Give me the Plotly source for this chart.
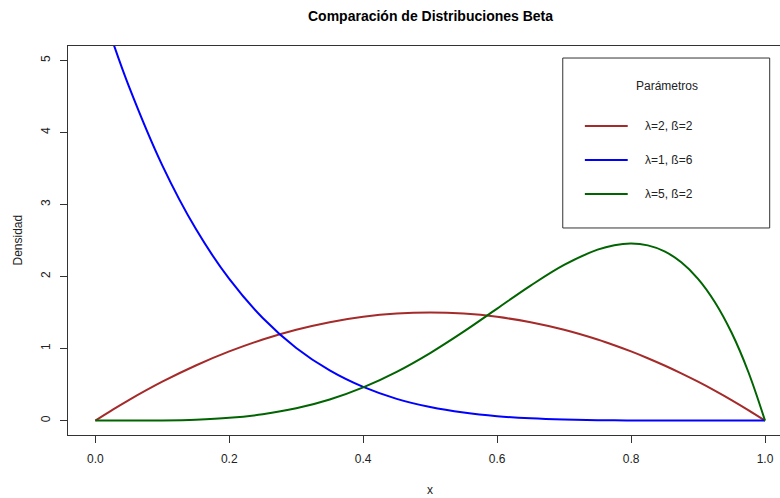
import plotly.graph_objects as go

# Data
x_vals = [0, 0.025, 0.05, 0.10, 0.15, 0.20, 0.25, 0.30, 0.35, 0.40, 0.45, 0.50,
          0.55, 0.60, 0.65, 0.70, 0.75, 0.775, 0.80, 0.825, 0.85, 0.875, 0.90, 0.925,
          0.95, 0.975, 1.0]
dens_2_2 = [0, 0.146, 0.285, 0.54, 0.765, 0.96, 1.125, 1.26, 1.365, 1.44, 1.485, 1.5,
            1.485, 1.44, 1.365, 1.26, 1.125, 1.046, 0.96, 0.866, 0.765, 0.656, 0.54, 0.416,
            0.285, 0.146, 0]
dens_1_6 = [6.0, 5.287, 4.643, 3.543, 2.662, 1.966, 1.424, 1.008, 0.696, 0.467, 0.302, 0.188,
            0.111, 0.061, 0.032, 0.015, 0.006, 0.0035, 0.002, 0.001, 0.0005, 0.0002, 0.0001, 0,
            0, 0, 0]
dens_5_2 = [0, 0, 0.0002, 0.003, 0.013, 0.038, 0.088, 0.170, 0.293, 0.461, 0.677, 0.938,
            1.235, 1.555, 1.874, 2.161, 2.373, 2.435, 2.458, 2.432, 2.349, 2.198, 1.968, 1.647,
            1.222, 0.678, 0]

series_names = ["λ=2, ß=2", "λ=1, ß=6", "λ=5, ß=2"]
series_colors = ["#A52A2A", "#0000FF", "#006400"]
series_values = [dens_2_2, dens_1_6, dens_5_2]

x_ticks = [0.0, 0.2, 0.4, 0.6, 0.8, 1.0]
x_ticklabels = ["0.0", "0.2", "0.4", "0.6", "0.8", "1.0"]
y_ticks = [0, 1, 2, 3, 4, 5]

FONT = "Arial, Liberation Sans, sans-serif"
TXT = "#222222"

fig = go.Figure()
for name, col, vals in zip(series_names, series_colors, series_values):
    fig.add_trace(go.Scatter(x=x_vals, y=vals, mode="lines", name=name,
                             line=dict(color=col, width=2, shape="spline", smoothing=1.0),
                             showlegend=False))

# Manual legend (R-style box)
shapes = [dict(type="rect", xref="x", yref="y", x0=0.698, x1=1.007, y0=2.674, y1=5.033,
               line=dict(color="#333333", width=1), fillcolor="white", layer="above")]
annotations = [dict(text="Parámetros", x=0.853, y=4.645, xref="x", yref="y",
                    xanchor="center", yanchor="middle",
                    showarrow=False, font=dict(family=FONT, size=12, color=TXT))]
leg_y = [4.088, 3.617, 3.146]
for name, col, ly in zip(series_names, series_colors, leg_y):
    shapes.append(dict(type="line", xref="x", yref="y", x0=0.731, x1=0.795, y0=ly, y1=ly,
                       line=dict(color=col, width=2), layer="above"))
    annotations.append(dict(text=name, x=0.818, y=ly, xref="x", yref="y", xanchor="left",
                            yanchor="middle",
                            showarrow=False, font=dict(family=FONT, size=12, color=TXT)))

annotations += [
    dict(text="<b>Comparación de Distribuciones Beta</b>", x=(430 - 68) / 712,
         y=(435 - 16) / 389, xref="paper", yref="paper", showarrow=False,
         xanchor="center", yanchor="middle",
         font=dict(family=FONT, size=14, color="black")),
    dict(text="x", x=(430 - 68) / 712, y=(435 - 490) / 389, xref="paper", yref="paper",
         xanchor="center", yanchor="middle",
         showarrow=False, font=dict(family=FONT, size=12, color=TXT)),
    dict(text="Densidad", x=(17 - 68) / 712, y=0.5, xref="paper", yref="paper", textangle=-90,
         xanchor="center", yanchor="middle",
         showarrow=False, font=dict(family=FONT, size=12, color=TXT)),
]

fig.update_layout(
    width=780, height=498,
    margin=dict(l=68, r=0, t=46, b=63),
    paper_bgcolor="white", plot_bgcolor="white",
    font=dict(family=FONT, size=12, color=TXT),
    shapes=shapes, annotations=annotations,
    xaxis=dict(range=[-0.0408, 1.0224], tickvals=x_ticks, ticktext=x_ticklabels,
               showgrid=False, zeroline=False, showline=True, mirror=True,
               linecolor="#333333", linewidth=1, ticks="outside", ticklen=7,
               tickcolor="#333333", ticklabelstandoff=6, tickfont=dict(size=12, color=TXT)),
    yaxis=dict(range=[-0.2, 5.2], tickvals=y_ticks, tickangle=-90,
               showgrid=False, zeroline=False, showline=True, mirror=False,
               linecolor="#333333", linewidth=1, ticks="outside", ticklen=7,
               tickcolor="#333333", ticklabelstandoff=5, tickfont=dict(size=12, color=TXT)),
)

fig.write_html("out.html")
